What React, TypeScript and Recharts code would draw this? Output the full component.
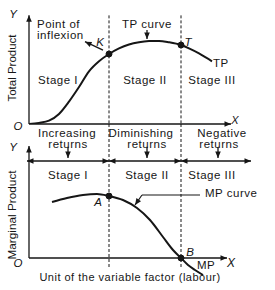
import { LineChart, Line, XAxis, YAxis, ReferenceLine, ReferenceDot } from "recharts";

// units of labour (x) and total product
const labour = [0, 0.5, 1, 1.5, 2, 2.5, 3, 3.5, 4, 4.5, 5, 5.5, 6, 6.5, 7, 7.6, 8, 8.5, 9.15];
const totalProduct = [0, 1, 3, 9, 20, 33, 47, 56, 62.5, 67.5, 71, 73, 74, 74.2, 73, 70.5, 67.5, 63, 56];

// marginal product
const mpLabour = [1.15, 1.9, 2.7, 3.4, 4, 4.7, 5.4, 6.05, 6.7, 7.2, 7.6, 7.95, 8.3, 8.7];
const marginalProduct = [56, 60, 63, 64, 62, 58, 50, 38, 21, 8, 0, -7, -12, -17];

const stageBounds = [4, 7.6];
const stageNames = ["Stage I", "Stage II", "Stage III"];
const returnsTop = ["Increasing", "Diminishing", "Negative"];
const returnsBottom = ["returns", "returns", "returns"];

const ink = "#161616";
const font = "'Liberation Sans', Arial, sans-serif";
const narrow = "'Liberation Sans Narrow', 'Liberation Sans', Arial, sans-serif";

const tpData = labour.map((x, i) => ({ x, tp: totalProduct[i] }));
const mpData = mpLabour.map((x, i) => ({ x, mp: marginalProduct[i] }));

const head = (tx: number, ty: number, fx: number, fy: number, key: string) => {
  const a = Math.atan2(ty - fy, tx - fx);
  const L = 6.5;
  const W = 2.8;
  const bx = tx - L * Math.cos(a);
  const by = ty - L * Math.sin(a);
  const px = -Math.sin(a) * W;
  const py = Math.cos(a) * W;
  return <polygon key={key} points={`${tx},${ty} ${bx + px},${by + py} ${bx - px},${by - py}`} fill={ink} />;
};

const arrowShape = (heads: "none" | "end" | "both", width = 1.2, dash?: string) => (p: any) => (
  <g>
    <line x1={p.x1} y1={p.y1} x2={p.x2} y2={p.y2} stroke={ink} strokeWidth={width} strokeDasharray={dash} />
    {heads !== "none" && head(p.x2, p.y2, p.x1, p.y1, "e")}
    {heads === "both" && head(p.x1, p.y1, p.x2, p.y2, "s")}
  </g>
);

const seg = (key: string, x1: number, y1: number, x2: number, y2: number, heads: "none" | "end" | "both", yId: string, width?: number, dash?: string) => (
  <ReferenceLine
    key={key}
    yAxisId={yId}
    segment={[{ x: x1, y: y1 }, { x: x2, y: y2 }]}
    ifOverflow="visible"
    shape={arrowShape(heads, width, dash)}
  />
);

const note = (key: string, x: number, y: number, text: string, yId: string, opts: any = {}) => (
  <ReferenceDot
    key={key}
    yAxisId={yId}
    x={x}
    y={y}
    r={0}
    ifOverflow="visible"
    shape={(p: any) => (
      <text
        x={p.cx}
        y={p.cy}
        textAnchor={opts.anchor ?? "middle"}
        dominantBaseline="central"
        fontFamily={opts.family ?? font}
        fontSize={opts.size ?? 11.5}
        fontStyle={opts.italic ? "italic" : "normal"}
        letterSpacing={opts.spacing ?? 0.5}
        fill={ink}
        transform={opts.rotate ? `rotate(-90, ${p.cx}, ${p.cy})` : undefined}
      >
        {text}
      </text>
    )}
  />
);

const dot = (key: string, x: number, y: number, yId: string) => (
  <ReferenceDot key={key} yAxisId={yId} x={x} y={y} r={3} fill={ink} stroke={ink} ifOverflow="visible" />
);

export default function App() {
  const tpAt = (x: number) => totalProduct[labour.indexOf(x)];
  return (
    <div style={{ position: "relative", width: 275, height: 290, background: "#fff" }}>
      <style>{"body{margin:0} svg{overflow:visible}"}</style>
      <div style={{ position: "absolute", left: 0, top: 0 }}>
        <LineChart width={275} height={130} data={tpData} margin={{ top: 12, right: 46, left: 29, bottom: 6 }}>
          <XAxis dataKey="x" type="number" domain={[0, 10]} allowDataOverflow hide />
          <YAxis yAxisId="tp" type="number" domain={[0, 100]} allowDataOverflow hide />
          {stageBounds.map((b, i) => seg(`d${i}`, b, 97, b, 0, "none", "tp", 1, "3 2"))}
          {seg("xa", 0, 0, 10.1, 0, "end", "tp", 1.3)}
          {seg("ya", 0, 0, 0, 97, "end", "tp", 1.3)}
          <Line yAxisId="tp" type="monotone" dataKey="tp" stroke={ink} strokeWidth={2} dot={false} isAnimationActive={false} />
          {dot("K", stageBounds[0], tpAt(stageBounds[0]), "tp")}
          {dot("T", stageBounds[1], tpAt(stageBounds[1]), "tp")}
          {seg("kp", 3.7, 66, 2.8, 73.5, "end", "tp", 1.3)}
          {seg("tpc", 5.9, 84, 5.9, 76, "end", "tp", 1.3)}
          {note("Y", -0.8, 98, "Y", "tp", { italic: true, spacing: 0 })}
          {note("X", 10.3, 3.5, "X", "tp", { italic: true, size: 11, spacing: 0 })}
          {note("O", -0.55, -1.5, "O", "tp", { italic: true, spacing: 0 })}
          {note("tpl", -0.85, 50, "Total Product", "tp", { rotate: true, size: 11.5, family: narrow, spacing: 0 })}
          {note("p1", 0.4, 89.3, "Point of", "tp", { anchor: "start" })}
          {note("p2", 0.4, 79.5, "inflexion", "tp", { anchor: "start" })}
          {note("kl", 3.55, 73.5, "K", "tp", { italic: true, spacing: 0 })}
          {note("tpcl", 5.9, 89.3, "TP curve", "tp")}
          {note("tl", 7.95, 73.5, "T", "tp", { italic: true, spacing: 0 })}
          {note("tpe", 9.2, 54.5, "TP", "tp", { anchor: "start" })}
          {note("s1", 1.45, 39.3, stageNames[0], "tp")}
          {note("s2", 5.8, 39.3, stageNames[1], "tp")}
          {note("s3", 9.15, 39.3, stageNames[2], "tp")}
        </LineChart>
      </div>
      <div style={{ position: "absolute", left: 0, top: 124 }}>
        <LineChart width={275} height={166} data={mpData} margin={{ top: 0, right: 46, left: 29, bottom: 12 }}>
          <XAxis dataKey="x" type="number" domain={[0, 10]} allowDataOverflow hide />
          <YAxis yAxisId="mp" type="number" domain={[-20, 134]} allowDataOverflow hide />
          {stageBounds.map((b, i) => seg(`d${i}`, b, 134, b, -9, "none", "mp", 1, "3 2"))}
          {seg("xa", 0, 0, 9.9, 0, "end", "mp", 1.3)}
          {seg("ya", 0, 0, 0, 112, "end", "mp", 1.3)}
          {seg("r1", -0.1, 97, stageBounds[0], 97, "both", "mp", 1.3)}
          {seg("r2", stageBounds[0], 97, stageBounds[1], 97, "both", "mp", 1.3)}
          {seg("r3", stageBounds[1], 97, 11.1, 97, "both", "mp", 1.3)}
          {seg("a1", 1.95, 111, 1.95, 100, "end", "mp", 1.3)}
          {seg("a2", 5.9, 111, 5.9, 100, "end", "mp", 1.3)}
          {seg("a3", 9.45, 111, 9.45, 100, "end", "mp", 1.3)}
          {returnsTop.map((t, i) => note(`rt${i}`, [1.9, 5.6, 9.65][i], 125, t, "mp"))}
          {returnsBottom.map((t, i) => note(`rb${i}`, [1.95, 5.9, 9.5][i], 114, t, "mp"))}
          {note("s1", 1.95, 83, stageNames[0], "mp")}
          {note("s2", 5.9, 83, stageNames[1], "mp")}
          {note("s3", 9.15, 83, stageNames[2], "mp")}
          <Line yAxisId="mp" type="monotone" dataKey="mp" stroke={ink} strokeWidth={2} dot={false} isAnimationActive={false} />
          {dot("A", stageBounds[0], marginalProduct[mpLabour.indexOf(stageBounds[0])], "mp")}
          {dot("B", stageBounds[1], marginalProduct[mpLabour.indexOf(stageBounds[1])], "mp")}
          {seg("mpl", 8.55, 63, 5.65, 63, "none", "mp", 1.2)}
          {seg("mpa", 5.65, 63, 5.3, 53, "end", "mp", 1.2)}
          {note("Y", -0.8, 111, "Y", "mp", { italic: true, spacing: 0 })}
          {note("X", 10.1, -5, "X", "mp", { italic: true, size: 12, spacing: 0 })}
          {note("O", -0.55, -5, "O", "mp", { italic: true, spacing: 0 })}
          {note("mpy", -0.85, 43, "Marginal Product", "mp", { rotate: true, size: 11.8, family: narrow, spacing: 0 })}
          {note("al", 3.45, 56, "A", "mp", { italic: true, spacing: 0 })}
          {note("bl", 8.05, 6, "B", "mp", { italic: true, spacing: 0 })}
          {note("mpe", 8.4, -7, "MP", "mp", { anchor: "start" })}
          {note("mpc", 8.8, 65, "MP curve", "mp", { anchor: "start" })}
          {note("xl", 5.05, -19, "Unit of the variable factor (labour)", "mp", { size: 11 })}
        </LineChart>
      </div>
    </div>
  );
}
